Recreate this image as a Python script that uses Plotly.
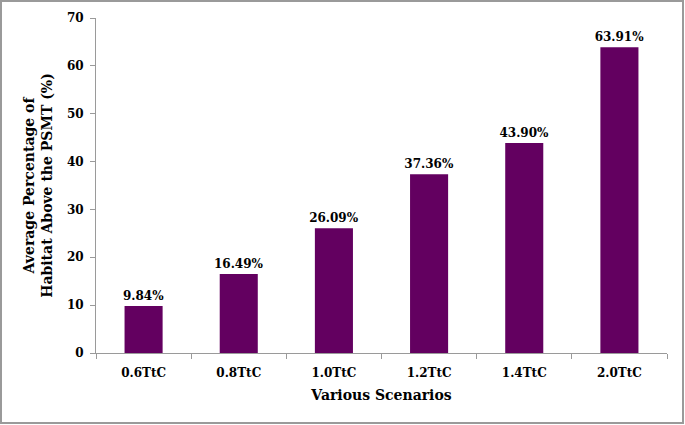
import plotly.graph_objects as go

scenarios = ["0.6TtC", "0.8TtC", "1.0TtC", "1.2TtC", "1.4TtC", "2.0TtC"]
habitat_pct = [9.84, 16.49, 26.09, 37.36, 43.90, 63.91]
bar_labels = ["9.84%", "16.49%", "26.09%", "37.36%", "43.90%", "63.91%"]
y_ticks = [0, 10, 20, 30, 40, 50, 60, 70]

font_family = "DejaVu Serif"

fig = go.Figure()
fig.add_trace(go.Bar(
    x=scenarios, y=habitat_pct, width=0.4,
    marker_color="#630060", marker_line_width=0,
    text=bar_labels, textposition="outside", cliponaxis=False,
    textfont=dict(family=font_family, size=12, color="black", weight="bold"),
))

# plot area in px, used for the outer border
L, R, T, B = 96, 18, 18, 72
pw, ph = 685 - L - R, 425 - T - B

fig.update_layout(
    width=685, height=425,
    margin=dict(l=L, r=R, t=T, b=B, autoexpand=False),
    paper_bgcolor="white", plot_bgcolor="white",
    showlegend=False,
    uniformtext=dict(minsize=12, mode="show"),
    font=dict(family=font_family, size=12, color="black", weight="bold"),
    xaxis=dict(
        title=dict(text="Various Scenarios", font=dict(size=14, weight="bold"), standoff=10),
        tickson="boundaries", ticks="outside", ticklen=5, tickcolor="#9a9a9a",
        showline=True, linecolor="#9a9a9a", linewidth=1, automargin=False,
        tickfont=dict(size=12, weight="bold"), ticklabelstandoff=9,
    ),
    yaxis=dict(
        title=dict(text="Average Percentage of<br>Habitat Above the PSMT (%)",
                   font=dict(size=14, weight="bold"), standoff=10),
        range=[0, 70], tickvals=y_ticks, ticks="outside", ticklen=5, tickcolor="#9a9a9a",
        showline=True, linecolor="#9a9a9a", linewidth=1, showgrid=False, zeroline=False,
        automargin=False, tickfont=dict(size=12, weight="bold"), ticklabelstandoff=4,
    ),
    shapes=[dict(
        type="rect", xref="paper", yref="paper",
        x0=(1 - L) / pw, x1=1 + (R - 2) / pw, y0=-(B - 2) / ph, y1=1 + (T - 1) / ph,
        line=dict(color="#9a9a9a", width=2), fillcolor="rgba(0,0,0,0)",
    )],
)

# drop the browser's default 8px body margin so the figure sits at 0,0
fig.write_html("out.html", config={"displayModeBar": False},
               post_script="document.body.style.margin='0';")
